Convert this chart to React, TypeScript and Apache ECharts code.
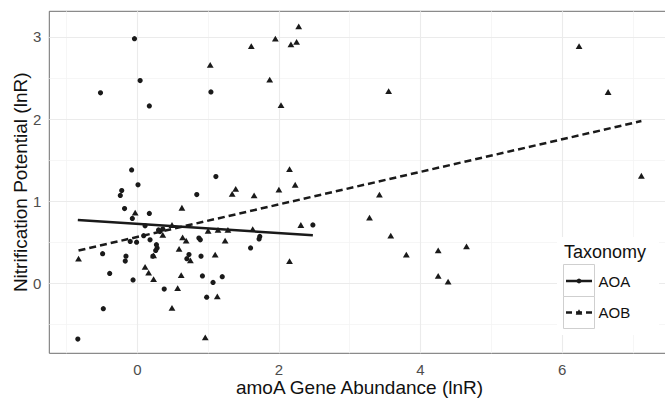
import React, { useEffect, useRef } from "react";
import * as echarts from "echarts";

const aoaX = [-0.84, -0.48, -0.49, -0.39, -0.24, -0.22, -0.18, 0.01, -0.07, 0.17, -0.16, -0.17, -0.06, -0.1, -0.01, 0.09, 0.11, 0.18, 0.22, 0.27, 0.28, 0.26, 0.3, 0.32, 0.36, 0.38, 0.84, 0.87, 0.89, 0.9, 0.92, 0.7, 0.73, 1.07, 0.98, 1.2, 1.6, 1.72, 1.73, 2.48, -0.52, -0.04, 0.04, 0.17, 1.04, -0.08, 1.11];
const aoaY = [-0.68, -0.31, 0.36, 0.12, 1.07, 1.13, 0.91, 1.2, 0.79, 0.85, 0.33, 0.27, 0.04, 0.51, 0.5, 0.58, 0.7, 0.53, 0.33, 0.47, 0.43, 0.4, 0.65, 0.63, 0.66, -0.07, 1.08, 0.55, 0.53, 0.33, 0.09, 0.3, 0.35, 0.01, -0.17, 0.08, 0.43, 0.54, 0.57, 0.71, 2.32, 2.98, 2.47, 2.16, 2.33, 1.38, 1.3];
const aobX = [-0.83, -0.03, 0.63, 1.34, 1.39, 1.65, 2.0, 2.23, 2.31, 2.15, 1.24, 1.28, 1.14, 1.0, 0.64, 0.69, 0.49, 0.36, 0.59, 0.23, 0.75, 1.1, 0.11, 0.16, 0.23, 0.62, 0.57, 1.13, 0.49, 0.96, 1.63, 1.03, 1.61, 1.95, 2.28, 2.17, 2.25, 1.87, 2.03, 2.15, 3.42, 3.28, 3.58, 3.8, 4.25, 4.65, 4.25, 4.39, 3.55, 6.24, 6.65, 7.12];
const aobY = [0.3, 0.86, 0.92, 1.09, 1.15, 1.07, 1.14, 1.2, 0.71, 0.27, 0.52, 0.65, 0.65, 0.64, 0.56, 0.52, 0.71, 0.59, 0.42, 0.34, 0.28, 0.35, 0.2, 0.13, 0.05, 0.1, -0.06, -0.16, -0.3, -0.66, 0.66, 2.66, 2.89, 2.98, 3.13, 2.91, 2.94, 2.48, 2.17, 1.39, 1.08, 0.8, 0.58, 0.35, 0.4, 0.45, 0.09, 0.02, 2.34, 2.89, 2.33, 1.31];

// fitted lines: [intercept, slope]
const aoaFit = [0.724, -0.056];
const aobFit = [0.564, 0.1983];

const xTicks = [0, 2, 4, 6];
const yTicks = [0, 1, 2, 3];
const xMinor = [-1, 1, 3, 5, 7];
const yMinor = [-0.5, 0.5, 1.5, 2.5];

const FONT = "Liberation Sans, Arial, Helvetica, sans-serif";

export default function App() {
  const ref = useRef<HTMLDivElement>(null);
  useEffect(() => {
    if (!ref.current) return;
    const chart = echarts.init(ref.current, undefined, { renderer: "svg" });
    const fitLine = (xs: number[], fit: number[]) => {
      const lo = Math.min(...xs);
      const hi = Math.max(...xs);
      return [
        [lo, fit[0] + fit[1] * lo],
        [hi, fit[0] + fit[1] * hi],
      ];
    };
    const major = { color: "#ebebeb", width: 1.1, type: "solid" };
    const minor = { color: "#f4f4f4", width: 0.8, type: "solid" };
    const ink = "#1a1a1a";
    chart.setOption({
      animation: false,
      textStyle: { fontFamily: FONT },
      grid: {
        left: 49.3,
        top: 11.3,
        width: 620.4,
        height: 342,
        containLabel: false,
        outerBoundsMode: "none",
        show: true,
        backgroundColor: "#ffffff",
        borderColor: "#6e6e6e",
        borderWidth: 1,
      },
      xAxis: {
        type: "value",
        min: -1.243,
        max: 7.52,
        axisLine: { show: false },
        splitLine: { show: false },
        axisTick: {
          show: true,
          customValues: xTicks,
          length: 3.5,
          lineStyle: { color: "#555", width: 1 },
        },
        axisLabel: {
          customValues: xTicks,
          color: "#4d4d4d",
          fontSize: 15,
          lineHeight: 13,
          margin: 10,
          fontFamily: FONT,
        },
        name: "amoA Gene Abundance (lnR)",
        nameLocation: "middle",
        nameGap: 24.5,
        nameMoveOverlap: false,
        nameTextStyle: { fontSize: 19, lineHeight: 19, color: "#111", fontFamily: FONT },
      },
      yAxis: {
        type: "value",
        min: -0.853,
        max: 3.313,
        axisLine: { show: false },
        splitLine: { show: false },
        axisTick: {
          show: true,
          customValues: yTicks,
          length: 3.5,
          lineStyle: { color: "#555", width: 1 },
        },
        axisLabel: {
          customValues: yTicks,
          color: "#4d4d4d",
          fontSize: 15,
          margin: 8,
          fontFamily: FONT,
        },
        name: "Nitrification Potential (lnR)",
        nameLocation: "middle",
        nameGap: 19,
        nameMoveOverlap: false,
        nameTextStyle: { fontSize: 19, lineHeight: 19, color: "#111", fontFamily: FONT },
      },
      series: [
        {
          type: "line",
          data: [],
          z: 1,
          silent: true,
          markLine: {
            z: 1,
            silent: true,
            symbol: ["none", "none"],
            label: { show: false },
            animation: false,
            data: [
              ...xMinor.map((v) => ({ xAxis: v, lineStyle: minor })),
              ...yMinor.map((v) => ({ yAxis: v, lineStyle: minor })),
              ...xTicks.map((v) => ({ xAxis: v, lineStyle: major })),
              ...yTicks.map((v) => ({ yAxis: v, lineStyle: major })),
            ],
          },
        },
        {
          name: "AOA",
          type: "scatter",
          z: 10,
          symbol: "circle",
          symbolSize: 5.2,
          itemStyle: { color: ink, opacity: 1 },
          data: aoaX.map((x, i) => [x, aoaY[i]]),
        },
        {
          name: "AOB",
          type: "scatter",
          z: 10,
          symbol: "triangle",
          symbolSize: [6.8, 5.8],
          itemStyle: { color: ink, opacity: 1 },
          data: aobX.map((x, i) => [x, aobY[i]]),
        },
        {
          type: "line",
          z: 11,
          showSymbol: false,
          symbol: "none",
          lineStyle: { color: ink, width: 2.5 },
          data: fitLine(aoaX, aoaFit),
        },
        {
          type: "line",
          z: 11,
          showSymbol: false,
          symbol: "none",
          lineStyle: { color: ink, width: 2.5, type: [7, 4] },
          data: fitLine(aobX, aobFit),
        },
      ],
      graphic: [
        {
          type: "rect",
          z: 100,
          shape: { x: 557, y: 237, width: 102, height: 98 },
          style: { fill: "#ffffff" },
        },
        {
          type: "text",
          z: 101,
          x: 564,
          y: 251.5,
          style: {
            text: "Taxonomy",
            fontSize: 18,
            fontFamily: FONT,
            fill: "#111",
            verticalAlign: "middle",
          },
        },
        {
          type: "rect",
          z: 101,
          shape: { x: 563.5, y: 264.5, width: 31, height: 32 },
          style: { fill: "#ffffff", stroke: "#cfcfcf", lineWidth: 1 },
        },
        {
          type: "rect",
          z: 101,
          shape: { x: 563.5, y: 296.5, width: 31, height: 32 },
          style: { fill: "#ffffff", stroke: "#cfcfcf", lineWidth: 1 },
        },
        {
          type: "line",
          z: 102,
          shape: { x1: 566, y1: 281, x2: 592, y2: 281 },
          style: { stroke: ink, lineWidth: 2.5 },
        },
        {
          type: "circle",
          z: 103,
          shape: { cx: 579, cy: 281, r: 2.4 },
          style: { fill: ink },
        },
        {
          type: "line",
          z: 102,
          shape: { x1: 566, y1: 312.5, x2: 592, y2: 312.5 },
          style: { stroke: ink, lineWidth: 2.5, lineDash: [6, 4] },
        },
        {
          type: "polygon",
          z: 103,
          shape: { points: [[579, 309.3], [582.3, 314.7], [575.7, 314.7]] },
          style: { fill: ink },
        },
        {
          type: "text",
          z: 101,
          x: 598.5,
          y: 281,
          style: {
            text: "AOA",
            fontSize: 15,
            fontFamily: FONT,
            fill: "#111",
            verticalAlign: "middle",
          },
        },
        {
          type: "text",
          z: 101,
          x: 598.5,
          y: 312.5,
          style: {
            text: "AOB",
            fontSize: 15,
            fontFamily: FONT,
            fill: "#111",
            verticalAlign: "middle",
          },
        },
      ],
    });
    return () => chart.dispose();
  }, []);
  return (
    <div
      ref={ref}
      style={{ position: "absolute", left: 0, top: 0, width: 665, height: 399 }}
    />
  );
}
